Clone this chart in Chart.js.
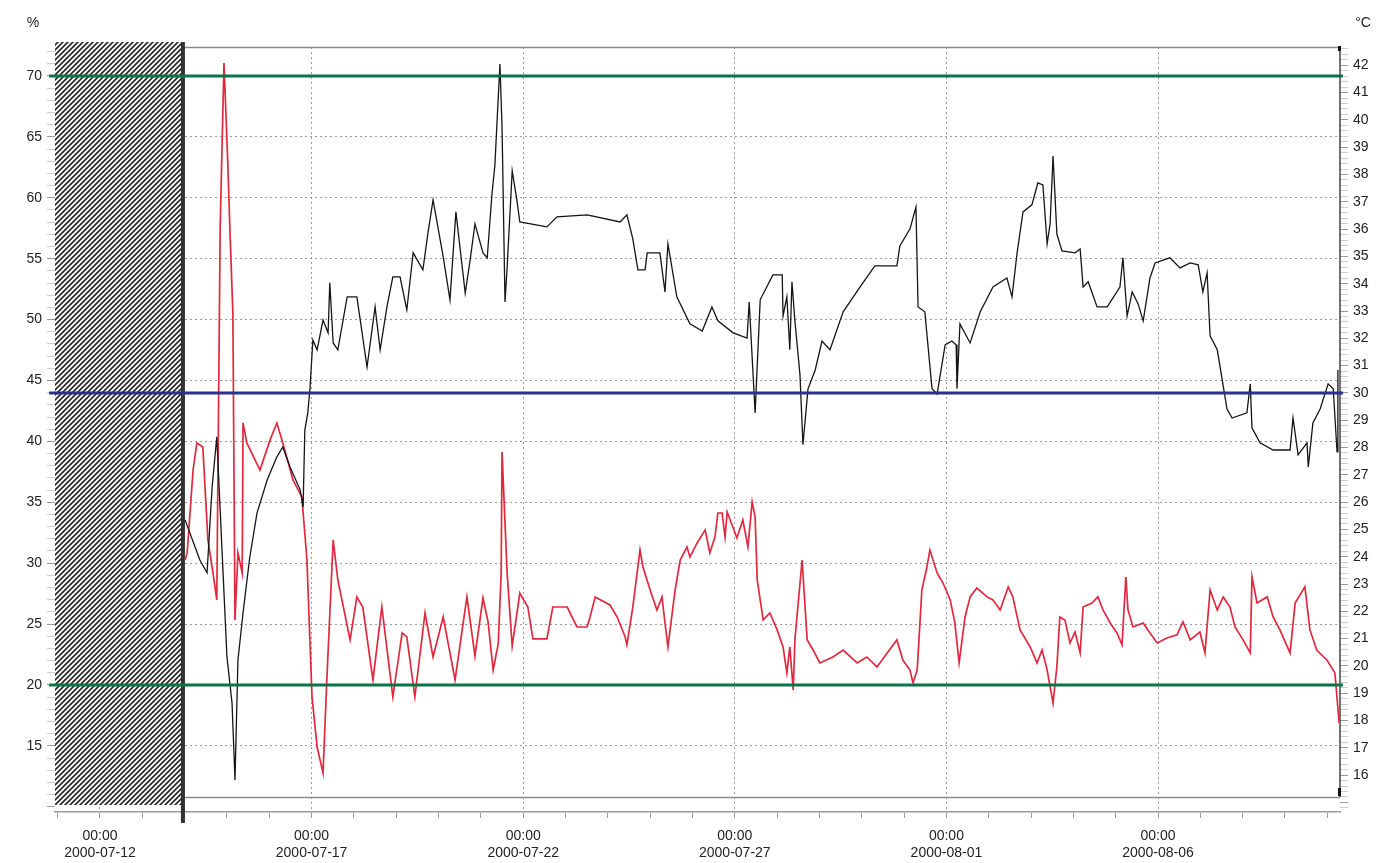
<!DOCTYPE html>
<html>
<head>
<meta charset="utf-8">
<title>Logger 2000-07 / 2000-08</title>
<script src="https://cdn.jsdelivr.net/npm/chart.js@4.4.1/dist/chart.umd.min.js"></script>
<style>
  html, body { margin: 0; padding: 0; background: #fff; }
  #wrap { position: relative; width: 1393px; height: 863px; }
</style>
</head>
<body>
<div id="wrap"><canvas id="logger-chart"></canvas></div>
<script>
// time axis in days after 2000-07-12 00:00
var xMin = -1.063, xMax = 29.30;
var loggingStart = 1.96;

// temperature, °C (black)
var tempDays = [
  2.01, 2.36, 2.53, 2.65, 2.76, 3.00, 3.12, 3.19, 3.26, 3.38,
  3.54, 3.71, 3.95, 4.18, 4.32, 4.49, 4.73, 4.80, 4.84, 4.91,
  4.96, 5.03, 5.13, 5.27, 5.39, 5.43, 5.51, 5.62, 5.84, 6.07,
  6.31, 6.50, 6.62, 6.78, 6.92, 7.09, 7.25, 7.40, 7.63, 7.75,
  7.87, 8.11, 8.27, 8.41, 8.63, 8.74, 8.86, 9.05, 9.15, 9.26,
  9.33, 9.45, 9.50, 9.57, 9.62, 9.74, 9.85, 9.92, 10.56, 10.80,
  11.51, 12.29, 12.45, 12.59, 12.71, 12.88, 12.93, 13.23, 13.35, 13.42,
  13.63, 13.94, 14.23, 14.46, 14.60, 14.96, 15.29, 15.34, 15.48, 15.60,
  15.90, 16.12, 16.14, 16.23, 16.30, 16.35, 16.42, 16.54, 16.61, 16.73,
  16.90, 17.06, 17.25, 17.56, 17.96, 18.31, 18.83, 18.90, 19.14, 19.28,
  19.33, 19.49, 19.66, 19.78, 19.97, 20.13, 20.23, 20.25, 20.32, 20.56,
  20.80, 21.10, 21.43, 21.55, 21.67, 21.81, 22.02, 22.16, 22.28, 22.38,
  22.45, 22.52, 22.61, 22.73, 23.04, 23.16, 23.23, 23.35, 23.56, 23.80,
  24.10, 24.17, 24.27, 24.39, 24.53, 24.65, 24.81, 24.93, 25.28, 25.52,
  25.76, 25.95, 26.06, 26.16, 26.23, 26.40, 26.63, 26.75, 27.10, 27.18,
  27.22, 27.41, 27.72, 28.12, 28.19, 28.31, 28.52, 28.55, 28.66, 28.83,
  29.02, 29.14, 29.23, 29.25
];
var tempValues = [
  25.35, 23.88, 23.41, 26.56, 28.39, 20.33, 18.64, 15.82, 20.22, 21.94,
  23.99, 25.60, 26.81, 27.66, 28.02, 27.29, 26.45, 25.82, 28.64, 29.27,
  30.11, 31.94, 31.58, 32.67, 32.20, 34.03, 31.83, 31.58, 33.52, 33.52,
  30.95, 33.15, 31.58, 33.15, 34.25, 34.25, 33.04, 35.13, 34.51, 35.86,
  37.07, 34.98, 33.41, 36.63, 33.66, 34.80, 36.19, 35.13, 34.95, 37.25,
  38.32, 42.05, 39.74, 33.33, 34.58, 38.13, 37.07, 36.26, 36.08, 36.45,
  36.52, 36.26, 36.52, 35.64, 34.51, 34.51, 35.13, 35.13, 33.70, 35.46,
  33.52, 32.53, 32.27, 33.15, 32.64, 32.20, 32.01, 33.33, 29.27, 33.41,
  34.32, 34.32, 32.82, 33.52, 31.58, 34.07, 32.64, 30.66, 28.10, 30.15,
  30.84, 31.90, 31.58, 32.97, 33.88, 34.65, 34.65, 35.38, 36.01, 36.81,
  33.15, 32.97, 30.15, 29.96, 31.76, 31.90, 31.76, 30.15, 32.53, 31.83,
  32.97, 33.88, 34.21, 33.52, 35.13, 36.63, 36.89, 37.69, 37.62, 35.46,
  36.19, 38.68, 35.82, 35.20, 35.13, 35.27, 33.88, 34.07, 33.15, 33.15,
  33.88, 34.95, 32.82, 33.70, 33.26, 32.64, 34.21, 34.76, 34.95, 34.58,
  34.76, 34.69, 33.70, 34.40, 32.09, 31.58, 29.41, 29.08, 29.27, 30.33,
  28.72, 28.17, 27.91, 27.91, 29.08, 27.73, 28.17, 27.29, 28.90, 29.41,
  30.33, 30.15, 27.84, 30.84
];

// relative humidity, % (red)
var humDays = [
  2.01, 2.06, 2.20, 2.29, 2.43, 2.55, 2.67, 2.76, 2.84, 2.93,
  3.02, 3.07, 3.14, 3.19, 3.26, 3.36, 3.38, 3.47, 3.78, 4.02,
  4.18, 4.32, 4.56, 4.77, 4.89, 5.01, 5.13, 5.27, 5.36, 5.51,
  5.62, 5.91, 6.07, 6.21, 6.45, 6.66, 6.92, 7.14, 7.25, 7.44,
  7.68, 7.87, 8.11, 8.39, 8.67, 8.86, 9.05, 9.17, 9.29, 9.41,
  9.48, 9.50, 9.62, 9.74, 9.92, 10.11, 10.23, 10.56, 10.70, 11.04,
  11.27, 11.51,
  11.58, 11.70, 12.05, 12.22, 12.41, 12.45, 12.59, 12.76, 12.83, 13.00,
  13.16, 13.28, 13.35, 13.42, 13.59, 13.71, 13.87, 13.94, 14.11, 14.30,
  14.41, 14.53, 14.60, 14.70, 14.77, 14.82, 15.05, 15.19, 15.31, 15.41,
  15.48, 15.53, 15.67, 15.83, 16.00, 16.14, 16.23, 16.30, 16.38, 16.42,
  16.59, 16.71, 16.85, 17.01, 17.32, 17.56, 17.89, 18.12, 18.36, 18.60,
  18.83, 18.97, 19.14, 19.21, 19.31, 19.42, 19.54, 19.61, 19.78, 19.92,
  20.09, 20.20, 20.30, 20.44, 20.56, 20.72, 20.96, 21.10, 21.27, 21.46,
  21.57, 21.74, 21.98, 22.14, 22.26, 22.38, 22.52, 22.61, 22.68, 22.80,
  22.92, 23.04, 23.16, 23.23, 23.44, 23.58, 23.70, 23.87, 24.03, 24.15,
  24.24, 24.29, 24.41, 24.65, 24.81, 24.98, 25.21, 25.45, 25.59, 25.76,
  25.99, 26.11, 26.23, 26.40, 26.54, 26.70, 26.82, 27.01, 27.18, 27.22,
  27.34, 27.58, 27.72, 27.88, 28.12, 28.24, 28.47, 28.59, 28.75, 28.99,
  29.18, 29.28
];
var humValues = [
  30.26, 30.84, 37.65, 39.87, 39.54, 31.91, 29.20, 26.98, 57.60, 71.07,
  62.86, 57.36, 50.54, 25.34, 30.84, 29.20, 41.51, 39.87, 37.65, 40.12,
  41.51, 39.87, 36.83, 35.44, 30.26, 19.02, 14.91, 12.78, 20.41, 31.91,
  28.62, 23.70, 27.23, 26.40, 20.41, 26.40, 19.02, 24.27, 23.94, 19.02,
  25.91, 22.30, 25.58, 20.41, 27.23, 22.38, 27.14, 25.17, 21.23, 23.37,
  29.20, 39.13, 29.20, 23.20, 27.55, 26.40, 23.78, 23.78, 26.40, 26.40,
  24.76, 24.76,
  25.58, 27.23, 26.57, 25.58, 23.94, 23.29, 26.40, 31.08, 29.69, 27.80,
  26.16, 27.23, 25.09, 23.12, 27.80, 30.26, 31.33, 30.51, 31.66, 32.73,
  30.84, 32.15, 34.12, 34.12, 32.15, 34.20, 32.07, 33.55, 31.33, 35.03,
  33.79, 28.62, 25.34, 25.91, 24.52, 23.12, 20.99, 23.12, 19.59, 23.70,
  30.26, 23.70, 22.87, 21.81, 22.30, 22.87, 21.81, 22.30, 21.48, 22.63,
  23.70, 22.05, 21.23, 20.17, 21.23, 27.80, 29.69, 31.08, 29.20, 28.37,
  26.98, 25.09, 21.81, 25.58, 27.23, 27.96, 27.23, 26.98, 26.16, 28.05,
  27.23, 24.52, 23.12, 21.81, 22.87, 21.23, 18.52, 21.48, 25.58, 25.34,
  23.45, 24.35, 22.63, 26.40, 26.73, 27.23, 26.16, 25.09, 24.27, 23.29,
  28.87, 26.16, 24.76, 25.09, 24.27, 23.45, 23.86, 24.11, 25.17, 23.70,
  24.35, 22.63, 27.80, 26.16, 27.23, 26.40, 24.76, 23.70, 22.63, 28.87,
  26.73, 27.23, 25.58, 24.52, 22.63, 26.73, 28.05, 24.52, 22.87, 22.05,
  20.99, 16.88
];

// alarm limits
var humLimits = [70, 20];
var tempLimits = [30];

var humRange = [9.57, 72.38];
var tempRange = [14.65, 42.67];

function pairs(xs, ys) {
  return xs.map(function (x, i) { return { x: x, y: ys[i] }; });
}
function limitLine(v) {
  return [{ x: xMin - 0.14, y: v }, { x: xMax + 0.07, y: v }];
}
function pad(n) { return (n < 10 ? '0' : '') + n; }
function dayLabel(v) {
  var d = new Date(Date.UTC(2000, 6, 12) + v * 86400000);
  return ['00:00', d.getUTCFullYear() + '-' + pad(d.getUTCMonth() + 1) + '-' + pad(d.getUTCDate())];
}
function isWhole(v, step) {
  var r = v / step;
  return Math.abs(r - Math.round(r)) < 1e-6;
}

// diagonal hatch for the period before logging
var tile = document.createElement('canvas');
tile.width = 5; tile.height = 5;
var tc = tile.getContext('2d');
tc.fillStyle = '#fff';
tc.fillRect(0, 0, 5, 5);
tc.strokeStyle = '#2a2a2a';
tc.lineWidth = 1.7;
tc.beginPath();
tc.moveTo(-1, 6); tc.lineTo(6, -1);
tc.moveTo(-2, 2); tc.lineTo(2, -2);
tc.moveTo(3, 7); tc.lineTo(7, 3);
tc.stroke();

var decorations = {
  id: 'decorations',
  beforeDatasetsDraw: function (chart) {
    var ctx = chart.ctx, a = chart.chartArea, x = chart.scales.x;
    var x0 = x.getPixelForValue(xMin), x1 = x.getPixelForValue(loggingStart);
    var frameBottom = a.bottom - 15;
    ctx.save();
    ctx.fillStyle = ctx.createPattern(tile, 'repeat');
    ctx.fillRect(x0, a.top - 5, x1 - x0, a.bottom - a.top - 2);

    ctx.strokeStyle = '#8a8a8a';
    ctx.lineWidth = 1.5;
    ctx.beginPath();
    ctx.moveTo(x1, a.top + 0.5); ctx.lineTo(a.right, a.top + 0.5);
    ctx.moveTo(x1, frameBottom + 0.5); ctx.lineTo(a.right, frameBottom + 0.5);
    ctx.stroke();

    ctx.strokeStyle = '#444';
    ctx.beginPath();
    ctx.moveTo(a.right, a.top); ctx.lineTo(a.right, frameBottom);
    ctx.stroke();
    ctx.fillStyle = '#111';
    ctx.fillRect(a.right - 2, a.top - 1, 3, 5);
    ctx.fillRect(a.right - 2, frameBottom - 9, 3, 8);

    ctx.fillStyle = '#333';
    ctx.fillRect(x1 - 2, a.top - 5, 4, a.bottom - a.top + 16);
    ctx.restore();
  },
  afterDraw: function (chart) {
    var ctx = chart.ctx, a = chart.chartArea;
    ctx.save();
    ctx.fillStyle = '#222';
    ctx.font = '14px "Liberation Sans", Arial, sans-serif';
    ctx.textAlign = 'center';
    ctx.textBaseline = 'middle';
    ctx.fillText('%', 33, 23);
    ctx.fillText('\u00b0C', a.right + 23, 23);
    ctx.restore();
  }
};

var tickFont = { family: '"Liberation Sans", Arial, sans-serif', size: 14 };

new Chart(document.getElementById('logger-chart'), {
  type: 'line',
  data: {
    datasets: [
      {
        label: 'RH max', data: limitLine(humLimits[0]), yAxisID: 'yHum',
        borderColor: '#0b7445', borderWidth: 3, pointRadius: 0, clip: false, order: 0
      },
      {
        label: 'RH min', data: limitLine(humLimits[1]), yAxisID: 'yHum',
        borderColor: '#0b7445', borderWidth: 3, pointRadius: 0, clip: false, order: 0
      },
      {
        label: 'T max', data: limitLine(tempLimits[0]), yAxisID: 'yTemp',
        borderColor: '#27318f', borderWidth: 3, pointRadius: 0, clip: false, order: 0
      },
      {
        label: 'Temperatur', data: pairs(tempDays, tempValues), yAxisID: 'yTemp',
        borderColor: '#151515', borderWidth: 1.3, pointRadius: 0, order: 1
      },
      {
        label: 'Feuchte', data: pairs(humDays, humValues), yAxisID: 'yHum',
        borderColor: '#e0283f', borderWidth: 1.7, pointRadius: 0, order: 2
      }
    ]
  },
  options: {
    responsive: true,
    maintainAspectRatio: false,
    animation: false,
    layout: { padding: { top: 47, left: 0, right: 0, bottom: 0 } },
    plugins: { legend: { display: false }, tooltip: { enabled: false } },
    elements: { line: { tension: 0 } },
    scales: {
      x: {
        type: 'linear',
        min: xMin, max: xMax,
        afterFit: function (s) { s.height = 51; },
        ticks: {
          stepSize: 1, includeBounds: false, autoSkip: false, maxRotation: 0,
          padding: 10, color: '#222',
          font: { family: tickFont.family, size: 14, lineHeight: 1.2 },
          callback: function (v) { return isWhole(v, 5) ? dayLabel(v) : ''; }
        },
        grid: {
          color: function (c) { return isWhole(c.tick.value, 5) ? '#9a9a9a' : 'rgba(0,0,0,0)'; },
          tickColor: '#9a9a9a', tickLength: 6, lineWidth: 1
        },
        border: { display: true, color: '#9a9a9a', width: 1.5, dash: [2, 3] }
      },
      yHum: {
        type: 'linear', position: 'left',
        min: humRange[0], max: humRange[1],
        afterFit: function (s) { s.width = 55; },
        ticks: {
          stepSize: 1, includeBounds: false, autoSkip: false, padding: 5,
          color: '#222', font: tickFont,
          callback: function (v) { return isWhole(v, 5) && v >= 15 ? String(v) : ''; }
        },
        grid: {
          color: function (c) {
            return isWhole(c.tick.value, 5) && c.tick.value >= 15 ? '#9a9a9a' : 'rgba(0,0,0,0)';
          },
          tickColor: function (c) { return isWhole(c.tick.value, 5) ? '#999' : '#cfcfcf'; },
          tickLength: 8, lineWidth: 1
        },
        border: { display: false, dash: [2, 3] }
      },
      yTemp: {
        type: 'linear', position: 'right',
        min: tempRange[0], max: tempRange[1],
        afterFit: function (s) { s.width = 53; },
        ticks: {
          stepSize: 0.2, includeBounds: false, autoSkip: false, padding: 5,
          color: '#222', font: tickFont,
          callback: function (v) { return isWhole(v, 1) && v >= 16 ? String(Math.round(v)) : ''; }
        },
        grid: {
          drawOnChartArea: false,
          tickColor: function (c) { return isWhole(c.tick.value, 1) ? '#999' : '#cfcfcf'; },
          tickLength: 8
        },
        border: { display: false }
      }
    }
  },
  plugins: [decorations]
});
</script>
</body>
</html>
